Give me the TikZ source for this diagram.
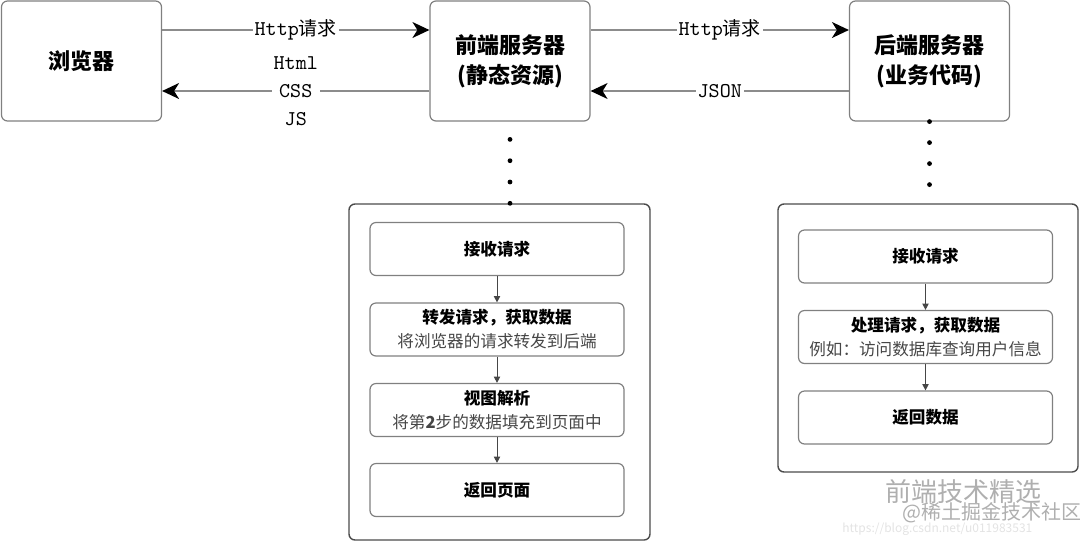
\documentclass[tikz,border=0pt]{standalone}
\usepackage{fontspec}
\setmainfont{Noto Sans CJK SC}
\usetikzlibrary{arrows.meta}
\definecolor{edge}{RGB}{128, 128, 128}
\definecolor{frame}{RGB}{75, 75, 75}
\definecolor{wire}{RGB}{140, 140, 140}
\definecolor{note}{RGB}{70, 70, 70}
\definecolor{mark}{RGB}{175, 175, 175}

\begin{document}
\begin{tikzpicture}[x=0.5pt, y=-0.5pt,
  server/.style={draw=edge, line width=0.6pt, rounded corners=3pt,
    minimum width=80pt, minimum height=60pt, inner sep=0pt, align=center,
    font=\fontsize{11}{15}\selectfont\bfseries},
  holder/.style={draw=frame, line width=0.7pt, rounded corners=3pt,
    minimum width=150pt, inner sep=0pt},
  stepbox/.style={draw=edge, line width=0.6pt, rounded corners=3pt,
    minimum width=127pt, minimum height=26.5pt, inner sep=0pt, align=center,
    font=\fontsize{8.3}{12}\selectfont},
  flow/.style={draw=wire, line width=0.6pt,
    -{Stealth[length=8.5pt, width=8pt, inset=2.5pt, color=black]}},
  inner/.style={draw=note, line width=0.5pt,
    -{Triangle[length=3.2pt, width=3.2pt]}},
  tag/.style={fill=white, inner sep=1pt, align=center,
    font=\fontsize{9.5}{14}\selectfont},
  dotline/.style={draw=black, line width=2.4pt, line cap=round}]

  \useasboundingbox (0, 0) rectangle (1080, 542);

  % servers
  \node[server] (browser) at (81.5, 61) {浏览器};
  \node[server] (front) at (510, 61) {前端服务器\\(静态资源)};
  \node[server] (back) at (929.5, 61) {后端服务器\\(业务代码)};

  \draw[flow] ([yshift=15.5pt]browser.east) -- ([yshift=15.5pt]front.west)
    node[tag, midway] {{\ttfamily\fontsize{10.5}{14}\selectfont Http}请求};
  \draw[flow] ([yshift=-15pt]front.west) -- ([yshift=-15pt]browser.east)
    node[tag, midway, font=\ttfamily\fontsize{10.5}{14}\selectfont] {Html\\CSS\\JS};
  \draw[flow] ([yshift=15.5pt]front.east) -- ([yshift=15.5pt]back.west)
    node[tag, midway] {{\ttfamily\fontsize{10.5}{14}\selectfont Http}请求};
  \draw[flow] ([yshift=-15pt]back.west) -- ([yshift=-15pt]front.east)
    node[tag, midway, font=\ttfamily\fontsize{10.5}{14}\selectfont] {JSON};

  % front end steps
  \node[holder, minimum width=150.5pt, minimum height=168pt] (frontbox) at (499.5, 372) {};
  \draw[dotline, dash pattern=on 0pt off 10.65pt] (frontbox.north -| front.south) -- (front.south);

  \node[stepbox] (frecv) at (497, 249) {\bfseries 接收请求};
  \node[stepbox] (fpass) at (497, 329.5) {{\bfseries 转发请求，获取数据}\\{\color{note}将浏览器的请求转发到后端}};
  \node[stepbox] (fview) at (497, 410) {{\bfseries 视图解析}\\{\color{note}将第\textbf{2}步的数据填充到页面中}};
  \node[stepbox] (fpage) at (497, 490) {\bfseries 返回页面};

  \draw[inner] (frecv) -- (fpass);
  \draw[inner] (fpass) -- (fview);
  \draw[inner] (fview) -- (fpage);

  % back end steps
  \node[holder, minimum height=134pt] (backbox) at (928, 338) {};
  \draw[dotline, dash pattern=on 0pt off 10.5pt] (back.south) -- (back.south |- backbox.north);

  \node[stepbox] (brecv) at (925.5, 256.5) {\bfseries 接收请求};
  \node[stepbox] (bwork) at (925.5, 337) {{\bfseries 处理请求，获取数据}\\{\color{note}例如：访问数据库查询用户信息}};
  \node[stepbox] (bdata) at (925.5, 417.5) {\bfseries 返回数据};

  \draw[inner] (brecv) -- (bwork);
  \draw[inner] (bwork) -- (bdata);

  % watermark
  \node[anchor=west, inner sep=0pt, text=mark, font=\fontsize{13}{13}\selectfont] (wmname) at (885, 492) {前端技术精选};
  \node[anchor=west, inner sep=0pt, text=mark, font=\fontsize{10}{10}\selectfont] (wmsite) at (902, 513) {@稀土掘金技术社区};
  \node[anchor=west, inner sep=0pt, text=mark!35, font=\fontsize{6}{6}\selectfont] (wmurl) at (842, 529) {https://blog.csdn.net/u011983531};

\end{tikzpicture}
\end{document}
